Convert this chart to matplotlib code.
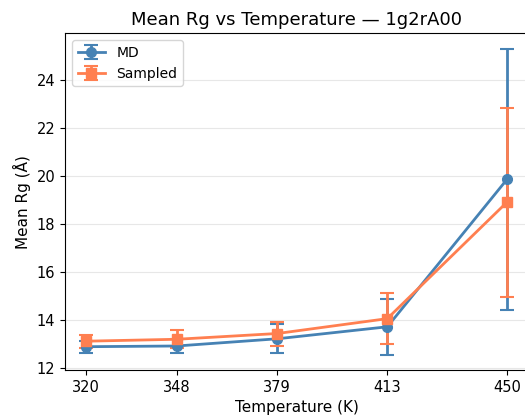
import matplotlib
matplotlib.use("Agg")
import matplotlib.pyplot as plt

# temperature (K) and mean radius of gyration (Angstrom)
temps = [320, 348, 379, 413, 450]
md_rg = [12.87, 12.90, 13.20, 13.70, 19.85]
md_err = [0.25, 0.30, 0.60, 1.17, 5.45]
sampled_rg = [13.10, 13.18, 13.42, 14.04, 18.90]
sampled_err = [0.27, 0.37, 0.50, 1.06, 3.94]

fig = plt.figure(figsize=(5.25, 4.15), dpi=100)
ax = fig.add_axes([0.124, 0.108, 0.882, 0.812])

ax.errorbar(temps, md_rg, yerr=md_err, marker="o", color="steelblue",
            capsize=5, capthick=1.5, linewidth=2, markersize=7, label="MD")
ax.errorbar(temps, sampled_rg, yerr=sampled_err, marker="s", color="coral",
            capsize=5, capthick=1.5, linewidth=2, markersize=7, label="Sampled")

ax.set_xticks(temps)
ax.set_xticklabels([str(t) for t in temps])
ax.tick_params(labelsize=10.5)
ax.set_xlabel("Temperature (K)", fontsize=11)
ax.set_ylabel("Mean Rg (Å)", fontsize=11)
ax.set_title("Mean Rg vs Temperature — 1g2rA00", fontsize=13)
ax.grid(True, axis="y", alpha=0.3)
ax.legend(loc="upper left")

fig.savefig("out.png", dpi=100)
